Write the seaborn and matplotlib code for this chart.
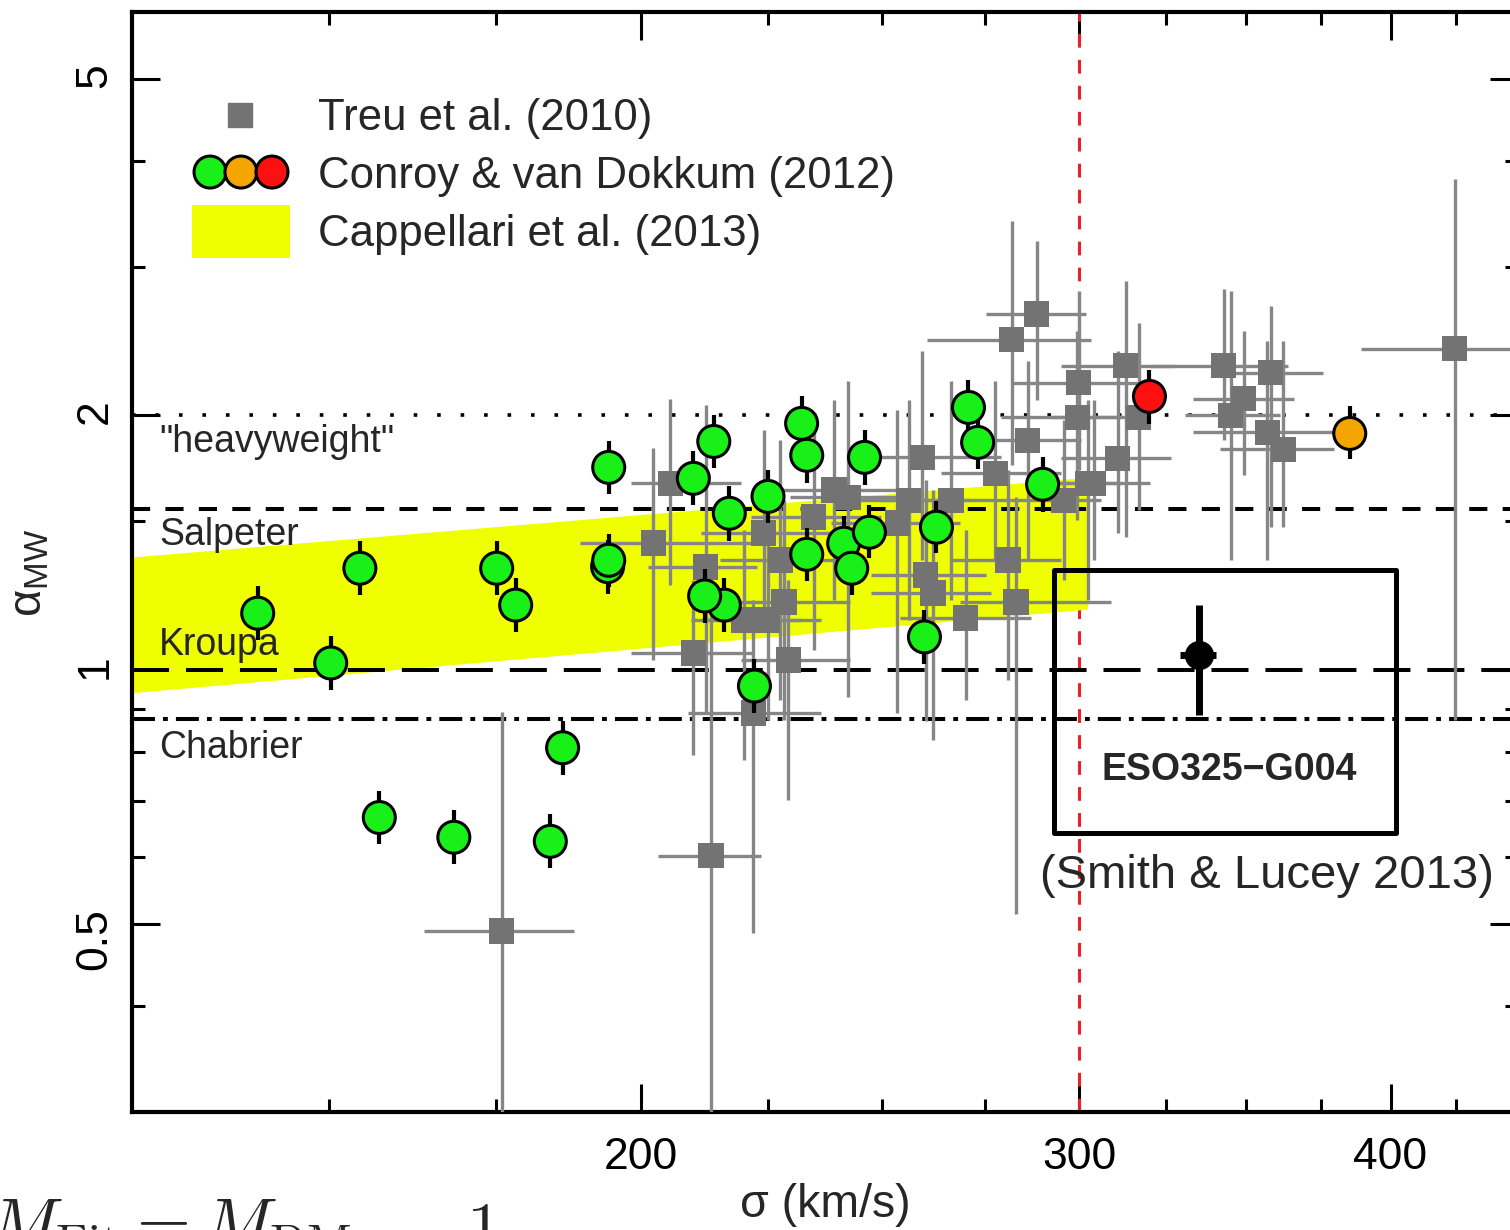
import numpy as np
import pandas as pd
import matplotlib
matplotlib.use("Agg")
import matplotlib.pyplot as plt
import matplotlib.transforms as mtransforms
from matplotlib.patches import Rectangle
from matplotlib.ticker import NullFormatter
import seaborn as sns

# ---------------- data ----------------
# Treu et al. (2010): sigma (km/s), alpha_MW with error ranges
treu_sigma = [175.9, 213.4, 424.4, 288.4, 281.8, 299.8, 299.5, 313.1, 316.9, 310.8, 304.0, 342.8, 358.0, 349.2, 345.0,
              357.0, 362.3, 259.5, 286.0, 277.6, 302.3, 295.7, 256.2, 266.4, 253.6, 280.8, 260.3, 262.0, 282.9, 270.1,
              205.6, 202.4, 212.4, 210.0, 224.1, 227.6, 228.3, 220.0, 224.9, 229.3, 222.0, 239.1, 234.7, 242.2]
treu_sigma_lo = [163.7, 203.2, 389.1, 275.1, 260.7, 281.6, 279.0, 294.9, 292.1, 294.9, 286.8, 320.4, 340.3, 333.1, 330.9,
                 333.4, 341.8, 249.7, 271.3, 263.9, 286.8, 281.6, 242.8, 249.7, 238.4, 266.4, 247.4, 247.4, 268.8, 254.3,
                 198.2, 189.2, 201.3, 198.2, 211.4, 215.3, 217.4, 209.5, 211.4, 219.4, 208.9, 227.6, 221.4, 229.7]
treu_sigma_hi = [188.0, 223.5, 455.0, 301.8, 303.2, 317.5, 311.7, 327.3, 320.4, 326.4, 320.4, 363.7, 375.7, 365.7, 361.3,
                 379.5, 379.5, 279.0, 300.4, 294.9, 311.7, 306.0, 271.3, 281.6, 268.8, 294.9, 275.1, 276.4, 308.8, 286.8,
                 219.4, 225.5, 222.8, 222.0, 238.4, 242.8, 242.8, 231.9, 236.2, 242.8, 236.2, 254.3, 249.7, 256.7]
treu_alpha = [0.491, 0.603, 2.399, 2.638, 2.458, 2.187, 1.989, 2.291, 1.989, 1.779, 1.662, 2.291, 2.247, 2.094, 2.000,
              1.909, 1.823, 1.784, 1.868, 1.708, 1.662, 1.587, 1.587, 1.587, 1.491, 1.348, 1.295, 1.233, 1.203, 1.152,
              1.662, 1.412, 1.323, 1.047, 1.451, 1.348, 1.203, 1.146, 1.146, 1.028, 0.890, 1.631, 1.516, 1.600]
treu_alpha_lo = [0.25, 0.25, 0.873, 2.083, 1.746, 1.722, 1.503, 1.435, 1.545, 1.451, 1.348, 1.868, 1.475, 1.699, 1.348,
                 1.348, 1.475, 1.348, 1.348, 1.348, 1.210, 1.277, 1.146, 1.210, 0.890, 0.973, 0.870, 0.827, 0.514, 0.922,
                 1.260, 1.028, 0.890, 0.794, 1.146, 0.922, 0.873, 0.783, 0.873, 0.702, 0.489, 1.210, 1.056, 0.929]
treu_alpha_hi = [0.892, 1.277, 3.808, 3.217, 3.397, 2.808, 2.519, 2.886, 2.575, 2.386, 2.083, 2.824, 2.696, 2.519, 2.808,
                 2.452, 2.452, 2.386, 2.322, 2.199, 2.083, 1.973, 2.083, 2.199, 2.027, 1.722, 1.676, 1.631, 1.600, 1.463,
                 2.094, 1.828, 2.055, 1.277, 1.920, 1.868, 1.587, 1.463, 1.503, 1.277, 1.210, 2.083, 1.920, 2.199]

# Conroy & van Dokkum (2012)
cvd_sigma = [140.4, 150.2, 154.3, 157.1, 168.3, 175.1, 178.2, 184.0, 186.1, 194.2, 194.0, 194.2, 210.0, 214.0, 216.1,
             212.2, 217.1, 222.2, 225.0, 232.1, 233.2, 233.2, 241.3, 243.1, 247.1, 246.0, 260.0, 262.9, 270.8, 273.1,
             290.0, 385.2, 320.1]
cvd_alpha = [1.167, 1.019, 1.319, 0.669, 0.634, 1.319, 1.193, 0.627, 0.809, 1.736, 1.325, 1.348, 1.685, 1.863, 1.193,
             1.223, 1.532, 0.957, 1.604, 1.957, 1.794, 1.370, 1.412, 1.319, 1.455, 1.784, 1.094, 1.475, 2.044, 1.858,
             1.658, 1.904, 2.106]
cvd_err_up = [0.089, 0.078, 0.100, 0.051, 0.048, 0.100, 0.091, 0.048, 0.062, 0.130, 0.100, 0.100, 0.130, 0.140, 0.091,
              0.093, 0.120, 0.073, 0.120, 0.150, 0.140, 0.100, 0.110, 0.100, 0.110, 0.140, 0.083, 0.110, 0.160, 0.140,
              0.130, 0.150, 0.160]
cvd_err_dn = [0.083, 0.072, 0.093, 0.047, 0.045, 0.093, 0.084, 0.044, 0.057, 0.120, 0.094, 0.095, 0.120, 0.130, 0.084,
              0.087, 0.110, 0.068, 0.110, 0.140, 0.130, 0.097, 0.100, 0.093, 0.100, 0.130, 0.077, 0.100, 0.140, 0.130,
              0.120, 0.130, 0.150]
cvd_group = ["green"] * 31 + ["orange", "red"]

# Cappellari et al. (2013) band
capp_sigma = [125.0, 302.3]
capp_alpha_top = [1.36, 1.69]
capp_alpha_bottom = [0.94, 1.18]

# IMF reference levels
imf_names = ['"heavyweight"', "Salpeter", "Kroupa", "Chabrier"]
imf_alpha = [2.0, 1.55, 1.0, 0.875]
imf_label_alpha = [1.808, 1.405, 1.042, 0.787]

# ESO325-G004 (Smith & Lucey 2013)
eso_sigma, eso_sigma_lo, eso_sigma_hi = 335.0, 329.4, 340.3
eso_alpha, eso_alpha_lo, eso_alpha_hi = 1.042, 0.885, 1.193
eso_box_sigma = [293.2, 402.2]
eso_box_alpha = [0.642, 1.312]

x_major = [200, 300, 400]
x_major_labels = ["200", "300", "400"]
x_minor = [150, 175, 225, 250, 275, 325, 350, 375, 425]
y_major = [0.5, 1, 2, 5]
y_major_labels = ["0.5", "1", "2", "5"]
y_minor = [0.4, 0.6, 0.7, 0.8, 0.9, 1.5, 3, 4]

# ---------------- style ----------------
sns.set_theme(style="ticks")
plt.rcParams["font.family"] = ["Liberation Sans", "DejaVu Sans"]
plt.rcParams["mathtext.fontset"] = "custom"
plt.rcParams["mathtext.rm"] = "Liberation Sans"
plt.rcParams["mathtext.it"] = "Liberation Sans:italic"
plt.rcParams["mathtext.bf"] = "Liberation Sans:bold"
plt.rcParams["axes.edgecolor"] = "black"
plt.rcParams["xtick.color"] = "black"
plt.rcParams["ytick.color"] = "black"

GREEN = "#18f018"
ORANGE = "#f5a500"
RED = "#ff1010"
YELLOW = "#f0ff00"
GRAY_SQ = "#737373"
GRAY_BAR = "#868686"

fig = plt.figure(figsize=(15.1, 12.3), dpi=100)
fig.patch.set_facecolor("white")
ax = fig.add_axes([132 / 1510, 118 / 1230, 1386 / 1510, 1100 / 1230])
ax.set_facecolor("white")
ax.set_xscale("log")
ax.set_yscale("log")
ax.set_xlim(125, 450)
ax.set_ylim(0.3, 6)

# red vertical line at 300 km/s (under the band)
ax.axvline(300, color="#e8202a", lw=2.2, dashes=(4.5, 4), zorder=1)

# Cappellari band
ax.fill_between(capp_sigma, capp_alpha_bottom, capp_alpha_top, color=YELLOW, lw=0, zorder=2)

# IMF lines
line_styles = [dict(dashes=(1.0, 5.5), lw=2.6),
               dict(dashes=(4.5, 3.8), lw=2.9),
               dict(dashes=(9.2, 4.2), lw=2.9),
               dict(dashes=(5.7, 2.0, 1.2, 2.0), lw=2.9)]
trans_blend = mtransforms.blended_transform_factory(ax.transAxes, ax.transData)
for name, a, la, st in zip(imf_names, imf_alpha, imf_label_alpha, line_styles):
    ax.axhline(a, color="black", zorder=3, **st)
    ax.text(0.0195, la, name, transform=trans_blend, fontsize=27, ha="left", va="baseline", zorder=3)

# Treu et al. gray points
ts = np.array(treu_sigma); ta = np.array(treu_alpha)
ax.errorbar(ts, ta,
            xerr=[ts - np.array(treu_sigma_lo), np.array(treu_sigma_hi) - ts],
            yerr=[ta - np.array(treu_alpha_lo), np.array(treu_alpha_hi) - ta],
            fmt="none", ecolor=GRAY_BAR, elinewidth=2.4, capsize=0, zorder=4)
treu_df = pd.DataFrame({"sigma": treu_sigma, "alpha": treu_alpha})
sns.scatterplot(data=treu_df, x="sigma", y="alpha", marker="s", s=340, color=GRAY_SQ,
                edgecolor="none", linewidth=0, ax=ax, zorder=5, legend=False)

# Conroy & van Dokkum circles
cvd_df = pd.DataFrame({"sigma": cvd_sigma, "alpha": cvd_alpha, "group": cvd_group})
ax.errorbar(cvd_sigma, cvd_alpha, yerr=[cvd_err_dn, cvd_err_up], fmt="none",
            ecolor="black", elinewidth=3.0, capsize=0, zorder=6)
sns.scatterplot(data=cvd_df, x="sigma", y="alpha", hue="group",
                palette={"green": GREEN, "orange": ORANGE, "red": RED},
                s=530, edgecolor="black", linewidth=2.2, ax=ax, zorder=7, legend=False)

# ESO325-G004
ax.errorbar([eso_sigma], [eso_alpha],
            xerr=[[eso_sigma - eso_sigma_lo], [eso_sigma_hi - eso_sigma]],
            yerr=[[eso_alpha - eso_alpha_lo], [eso_alpha_hi - eso_alpha]],
            fmt="o", color="black", ms=20, elinewidth=5, capsize=0, zorder=8)
ax.add_patch(Rectangle((eso_box_sigma[0], eso_box_alpha[0]),
                       eso_box_sigma[1] - eso_box_sigma[0], eso_box_alpha[1] - eso_box_alpha[0],
                       fill=False, ec="black", lw=3.6, zorder=9, joinstyle="round"))
ax.text(344.7, 0.762, "ESO325\u2212G004", fontsize=27, fontweight="bold", ha="center", va="center", zorder=9)
ax.text(356.7, 0.571, "(Smith & Lucey 2013)", fontsize=34, ha="center", va="center", zorder=9)

# legend (hand drawn in axes coordinates)
ax.scatter([0.0779], [0.906], marker="s", s=300, color=GRAY_SQ, transform=ax.transAxes, zorder=10, clip_on=False)
ax.scatter([0.0563, 0.0786, 0.1010], [0.8545] * 3, s=530, c=[GREEN, ORANGE, RED], edgecolors="black",
           linewidths=2.2, transform=ax.transAxes, zorder=10, clip_on=False)
ax.add_patch(Rectangle((0.0433, 0.7764), 0.0707, 0.0481, transform=ax.transAxes, color=YELLOW, lw=0, zorder=10))
leg_texts = ["Treu et al. (2010)", "Conroy & van Dokkum (2012)", "Cappellari et al. (2013)"]
for t, yb in zip(leg_texts, [0.8927, 0.8400, 0.7873]):
    ax.text(0.1345, yb, t, transform=ax.transAxes, fontsize=31.5, ha="left", va="baseline", zorder=10)

# ticks and axes
ax.set_xticks(x_major)
ax.set_xticklabels(x_major_labels)
ax.set_xticks(x_minor, minor=True)
ax.set_yticks(y_major)
ax.set_yticklabels(y_major_labels)
ax.set_yticks(y_minor, minor=True)
ax.xaxis.set_minor_formatter(NullFormatter())
ax.yaxis.set_minor_formatter(NullFormatter())
ax.tick_params(which="both", direction="in", top=True, right=True, width=2.2, color="black")
ax.tick_params(which="major", length=20, labelsize=32)
ax.tick_params(which="minor", length=9.5)
ax.tick_params(axis="x", which="major", pad=18)
ax.tick_params(axis="y", which="major", pad=12, labelrotation=90)
for sp in ax.spines.values():
    sp.set_linewidth(3.0)
    sp.set_color("black")

ax.set_xlabel("σ (km/s)", fontsize=33.5)
ax.xaxis.set_label_coords(0.5, -0.0645)
ax.set_ylabel("α$_{\\mathrm{MW}}$", fontsize=34)
ax.yaxis.set_label_coords(-0.058, 0.49)

# partially visible formula below the plot (cut by the lower edge, as in the source)
fig.text(-0.008, 1 - 1198 / 1230, r"$M_{\rm Fit} = M_{\rm DM}$", fontsize=50, ha="left", va="top",
         math_fontfamily="cm")
fig.text(0.3086, 1 - 1200 / 1230, r"$1$", fontsize=50, ha="left", va="top", math_fontfamily="cm")

fig.savefig("out.png", dpi=100, facecolor="white")
